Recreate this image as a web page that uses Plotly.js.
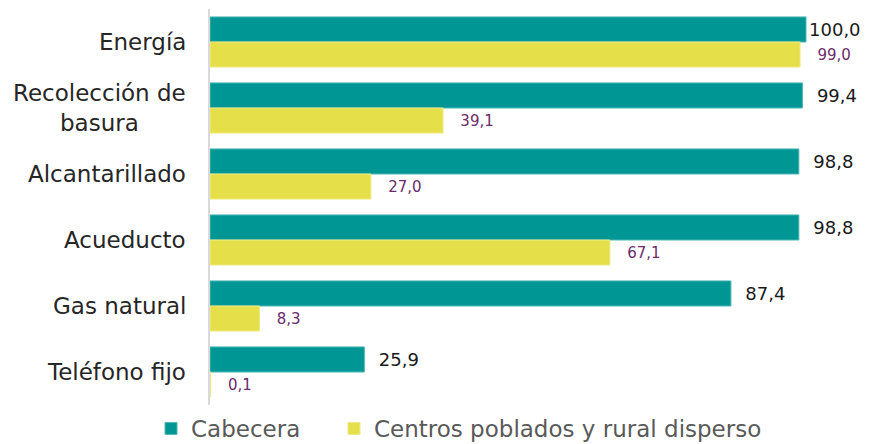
<!DOCTYPE html>
<html>
<head>
<meta charset="utf-8">
<script src="https://cdn.plot.ly/plotly-3.0.1.min.js"></script>
<style>html,body{margin:0;padding:0;background:#fff;}#chart{width:870px;height:444px;}</style>
</head>
<body>
<div id="chart"></div>
<script>
const categories = ["Energía", "Recolección de<br>basura", "Alcantarillado", "Acueducto", "Gas natural", "Teléfono fijo"];
const seriesNames = ["Cabecera", "Centros poblados y rural disperso"];
const cabecera = [100.0, 99.4, 98.8, 98.8, 87.4, 25.9];
const rural = [99.0, 39.1, 27.0, 67.1, 8.3, 0.1];

const FONT = "'DejaVu Sans', sans-serif";
const fmt = v => v.toFixed(1).replace(".", ",");
const traces = [
  {
    type: "bar", orientation: "h", name: seriesNames[0], legend: "legend",
    y: categories, x: cabecera,
    marker: {color: "#009693", line: {color: "#4fb9b5", width: 1}},
    text: cabecera.map(fmt),
    texttemplate: cabecera.map(v => v >= 100 ? "%{text}" : "\u00a0\u00a0%{text}"),
    textposition: "outside", cliponaxis: false,
    textfont: {family: FONT, size: 18, color: "#1a1a1a"},
    hoverinfo: "x+y"
  },
  {
    type: "bar", orientation: "h", name: seriesNames[1], legend: "legend2",
    y: categories, x: rural,
    marker: {color: "#e5e04a", line: {color: "#eeea86", width: 1}},
    text: rural.map(fmt),
    texttemplate: "\u00a0\u00a0\u00a0%{text}",
    textposition: "outside", cliponaxis: false,
    textfont: {family: FONT, size: 15, color: "#6b2c6b"},
    hoverinfo: "x+y"
  }
];

const annotations = categories.map(c => ({
  xref: "paper", yref: "y", x: 0, y: c, xanchor: "right", yanchor: "middle",
  xshift: -22, align: "center", showarrow: false, text: c,
  font: {family: FONT, size: 23, color: "#262626"}
}));

const legendBase = {
  orientation: "h", xref: "container", yref: "paper",
  xanchor: "left", y: -0.005, yanchor: "top",
  font: {family: FONT, size: 23, color: "#595959"},
  itemwidth: 30
};

const layout = {
  width: 870, height: 444,
  margin: {l: 210, r: 30, t: 9, b: 39, autoexpand: false},
  paper_bgcolor: "#fff", plot_bgcolor: "#fff",
  barmode: "group", bargap: 0.24, bargroupgap: 0,
  separators: ",.",
  showlegend: true,
  font: {family: FONT, color: "#262626"},
  annotations: annotations,
  xaxis: {range: [0, 105.7], visible: false, fixedrange: true},
  yaxis: {
    autorange: "reversed", showline: true, linecolor: "#d9d9d9", linewidth: 2,
    ticks: "", showticklabels: false, showgrid: false, zeroline: false
  },
  legend: Object.assign({}, legendBase, {x: 0.1736}),
  legend2: Object.assign({}, legendBase, {x: 0.3839})
};

Plotly.newPlot("chart", traces, layout, {displayModeBar: false, staticPlot: true});
</script>
</body>
</html>
